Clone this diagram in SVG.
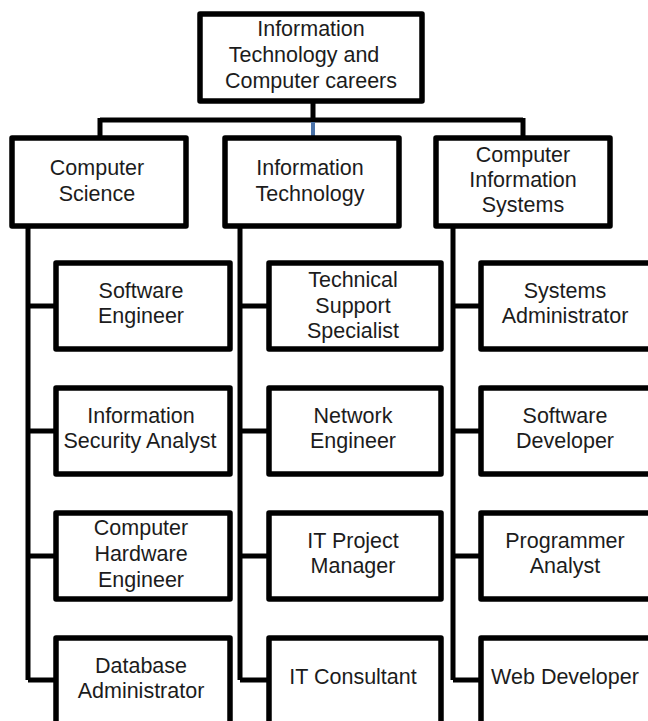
<svg xmlns="http://www.w3.org/2000/svg" width="648" height="721" viewBox="0 0 648 721">
  <style>
    .box { fill: #ffffff; stroke: #000000; stroke-width: 5.5; stroke-linejoin: round; }
    .wire { fill: none; stroke: #000000; stroke-width: 5; stroke-linejoin: miter; }
    .lbl { font-family: "Liberation Sans", "Open Sans", sans-serif; font-size: 21.5px; fill: #1c1c1c; text-anchor: middle; }
  </style>
  <rect width="648" height="721" fill="#ffffff"/>

  <!-- connectors -->
  <g id="connectors">
    <path class="wire" d="M313 101 V120 M100 120 H523 M100 118 V138 M523 118 V138"/>
    <path d="M313 122 V137" stroke="#4a72a8" stroke-width="4" fill="none"/>
    <path class="wire" d="M28 226 V680 M28 306 H56 M28 431 H56 M28 556 H56 M28 680 H56"/>
    <path class="wire" d="M240 226 V680 M240 306 H269 M240 431 H269 M240 556 H269 M240 680 H269"/>
    <path class="wire" d="M453 226 V680 M453 306 H481 M453 431 H481 M453 556 H481 M453 680 H481"/>
  </g>

  <!-- root -->
  <g id="root">
    <rect class="box" x="200" y="14" width="222" height="87"/>
    <text class="lbl"><tspan x="311" y="36">Information</tspan><tspan x="304" y="62">Technology and</tspan><tspan x="311" y="88">Computer careers</tspan></text>
  </g>

  <!-- fields -->
  <g id="computer-science">
    <rect class="box" x="12" y="138" width="174" height="88"/>
    <text class="lbl"><tspan x="97" y="175">Computer</tspan><tspan x="97" y="201">Science</tspan></text>
  </g>
  <g id="information-technology">
    <rect class="box" x="225" y="138" width="174" height="88"/>
    <text class="lbl"><tspan x="310" y="175">Information</tspan><tspan x="310" y="201">Technology</tspan></text>
  </g>
  <g id="computer-information-systems">
    <rect class="box" x="436" y="138" width="174" height="88"/>
    <text class="lbl"><tspan x="523" y="162">Computer</tspan><tspan x="523" y="187">Information</tspan><tspan x="523" y="212">Systems</tspan></text>
  </g>

  <!-- Computer Science careers -->
  <g id="software-engineer">
    <rect class="box" x="56" y="263" width="174" height="86"/>
    <text class="lbl"><tspan x="141" y="298">Software</tspan><tspan x="141" y="323">Engineer</tspan></text>
  </g>
  <g id="information-security-analyst">
    <rect class="box" x="56" y="388" width="174" height="86"/>
    <text class="lbl"><tspan x="141" y="423">Information</tspan><tspan x="140" y="448">Security Analyst</tspan></text>
  </g>
  <g id="computer-hardware-engineer">
    <rect class="box" x="56" y="513" width="174" height="86"/>
    <text class="lbl"><tspan x="141" y="535">Computer</tspan><tspan x="141" y="561">Hardware</tspan><tspan x="141" y="587">Engineer</tspan></text>
  </g>
  <g id="database-administrator">
    <rect class="box" x="56" y="638" width="174" height="86"/>
    <text class="lbl"><tspan x="141" y="673">Database</tspan><tspan x="141" y="698">Administrator</tspan></text>
  </g>

  <!-- Information Technology careers -->
  <g id="technical-support-specialist">
    <rect class="box" x="269" y="263" width="172" height="86"/>
    <text class="lbl"><tspan x="353" y="287">Technical</tspan><tspan x="353" y="313">Support</tspan><tspan x="353" y="338">Specialist</tspan></text>
  </g>
  <g id="network-engineer">
    <rect class="box" x="269" y="388" width="172" height="86"/>
    <text class="lbl"><tspan x="353" y="423">Network</tspan><tspan x="353" y="448">Engineer</tspan></text>
  </g>
  <g id="it-project-manager">
    <rect class="box" x="269" y="513" width="172" height="86"/>
    <text class="lbl"><tspan x="353" y="548">IT Project</tspan><tspan x="353" y="573">Manager</tspan></text>
  </g>
  <g id="it-consultant">
    <rect class="box" x="269" y="638" width="172" height="86"/>
    <text class="lbl"><tspan x="353" y="684">IT Consultant</tspan></text>
  </g>

  <!-- Computer Information Systems careers -->
  <g id="systems-administrator">
    <rect class="box" x="481" y="263" width="174" height="86"/>
    <text class="lbl"><tspan x="565" y="298">Systems</tspan><tspan x="565" y="323">Administrator</tspan></text>
  </g>
  <g id="software-developer">
    <rect class="box" x="481" y="388" width="174" height="86"/>
    <text class="lbl"><tspan x="565" y="423">Software</tspan><tspan x="565" y="448">Developer</tspan></text>
  </g>
  <g id="programmer-analyst">
    <rect class="box" x="481" y="513" width="174" height="86"/>
    <text class="lbl"><tspan x="565" y="548">Programmer</tspan><tspan x="565" y="573">Analyst</tspan></text>
  </g>
  <g id="web-developer">
    <rect class="box" x="481" y="638" width="174" height="86"/>
    <text class="lbl"><tspan x="565" y="684">Web Developer</tspan></text>
  </g>
</svg>
